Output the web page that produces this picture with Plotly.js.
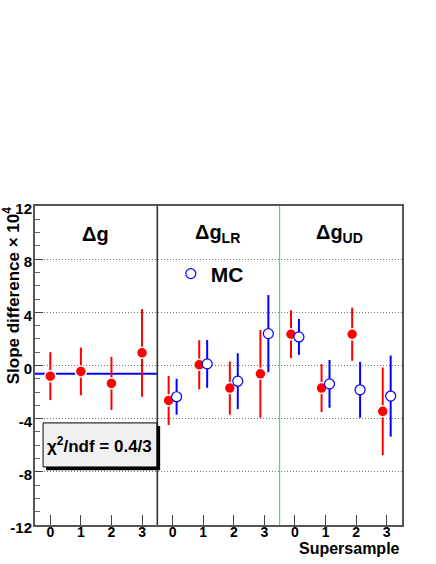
<!DOCTYPE html>
<html>
<head>
<meta charset="utf-8">
<script src="https://cdn.plot.ly/plotly-3.0.1.min.js"></script>
<style>
  html, body { margin: 0; padding: 0; background: #fff; }
  #chart { width: 436px; height: 564px; }
</style>
</head>
<body>
<div id="chart"></div>
<script>
// Slope differences per supersample, three panels: dg, dg_LR, dg_UD

const supersamples = [0, 1, 2, 3];
const tickLabels = ['0', '1', '2', '3'];
const panelTitles = ['\u0394g', '\u0394g<sub>LR</sub>', '\u0394g<sub>UD</sub>'];

// data (red) and MC (blue), units of 1e-4
const dgData = [-0.8, -0.45, -1.35, 0.95];
const dgDataErr = [1.8, 1.8, 2.0, 3.3];
const lrData = [-2.63, 0.05, -1.7, -0.63];
const lrDataErr = [1.85, 1.85, 2.0, 3.3];
const lrMC = [-2.35, 0.12, -1.18, 2.4];
const lrMCErr = [1.35, 1.8, 2.1, 2.9];
const udData = [2.35, -1.7, 2.35, -3.45];
const udDataErr = [1.8, 1.8, 2.0, 3.3];
const udMC = [2.15, -1.38, -1.83, -2.3];
const udMCErr = [1.35, 1.8, 2.1, 3.05];

// constant fit to dg
const fitValue = -0.63;
const fitText = '\u03c7<sup>2</sup>/ndf = 0.4/3';

const yTicks = [-12, -8, -4, 0, 4, 8, 12];

const RED = '#ff0000';
const BLUE = '#0000ff';
const FONT = 'Liberation Sans, Arial, Helvetica, sans-serif';
const nPerPanel = supersamples.length;
const shift = 0.13;

function panelX(panel, offset) {
    return supersamples.map(function(s) { return panel * nPerPanel + s + offset; });
}

function pointTrace(x, y, err, isMC, name, showlegend) {
    return {
        x: x,
        y: y,
        type: 'scatter',
        mode: 'markers',
        name: name,
        showlegend: showlegend,
        error_y: {
            type: 'data',
            array: err,
            visible: true,
            color: isMC ? BLUE : RED,
            thickness: 2,
            width: 0
        },
        marker: isMC ? {
            symbol: 'circle',
            size: 10,
            color: '#ffffff',
            line: { color: BLUE, width: 1.2 }
        } : {
            symbol: 'circle',
            size: 11,
            color: RED,
            line: { color: '#ffffff', width: 1.5 }
        }
    };
}

const traces = [
    {
        x: [-0.5, nPerPanel - 0.5],
        y: [fitValue, fitValue],
        type: 'scatter',
        mode: 'lines',
        line: { color: BLUE, width: 2 },
        showlegend: false,
        hoverinfo: 'skip'
    },
    pointTrace(panelX(0, 0), dgData, dgDataErr, false, 'Data', false),
    pointTrace(panelX(1, -shift), lrData, lrDataErr, false, 'Data', false),
    pointTrace(panelX(1, shift), lrMC, lrMCErr, true, 'MC', true),
    pointTrace(panelX(2, -shift), udData, udDataErr, false, 'Data', false),
    pointTrace(panelX(2, shift), udMC, udMCErr, true, 'MC', false)
];

// x tick positions and labels for all panels
const tickVals = [];
const tickText = [];
for (let p = 0; p < panelTitles.length; p++) {
    supersamples.forEach(function(s, i) {
        tickVals.push(p * nPerPanel + s);
        tickText.push(tickLabels[i]);
    });
}

// panel separators
const shapes = [
    { type: 'line', xref: 'x', yref: 'paper', x0: nPerPanel - 0.5, x1: nPerPanel - 0.5, y0: 0, y1: 1,
      line: { color: '#333333', width: 1.6 } },
    { type: 'line', xref: 'x', yref: 'paper', x0: 2 * nPerPanel - 0.5, x1: 2 * nPerPanel - 0.5, y0: 0, y1: 1,
      line: { color: '#22dd22', width: 1 } },
    // fit box shadow + box
    { type: 'rect', xref: 'paper', yref: 'paper', x0: 0.030, x1: 0.341, y0: 0.172, y1: 0.310,
      fillcolor: '#000000', line: { width: 0 } },
    { type: 'rect', xref: 'paper', yref: 'paper', x0: 0.022, x1: 0.332, y0: 0.182, y1: 0.320,
      fillcolor: '#f0f0f0', line: { color: '#000000', width: 1 } }
];

const annotations = panelTitles.map(function(t, p) {
    return {
        x: p * nPerPanel + 1.47, y: 9.9, xref: 'x', yref: 'y',
        text: '<b>' + t + '</b>', showarrow: false,
        xanchor: 'center', yanchor: 'middle',
        font: { family: FONT, size: 20, color: '#000' }
    };
});

annotations.push({
    x: 0.177, y: 0.251, xref: 'paper', yref: 'paper',
    text: '<b>' + fitText + '</b>', showarrow: false,
    xanchor: 'center', yanchor: 'middle',
    font: { family: FONT, size: 17, color: '#000' }
});

annotations.push({
    x: -0.063, y: 1.005, xref: 'paper', yref: 'paper',
    text: '<b>Slope difference \u00d7 10<sup>4</sup></b>', showarrow: false,
    textangle: -90, xanchor: 'center', yanchor: 'top',
    font: { family: FONT, size: 17, color: '#000' }
});

annotations.push({
    x: 1, y: -0.073, xref: 'paper', yref: 'paper',
    text: '<b>Supersample</b>', showarrow: false,
    xanchor: 'right', yanchor: 'middle',
    font: { family: FONT, size: 16, color: '#000' }
});

const layout = {
    width: 436,
    height: 564,
    margin: { l: 35, r: 34, t: 206, b: 39 },
    paper_bgcolor: '#ffffff',
    plot_bgcolor: '#ffffff',
    showlegend: true,
    legend: {
        x: 0.37, y: 0.787, xanchor: 'left', yanchor: 'middle',
        bgcolor: 'rgba(0,0,0,0)', borderwidth: 0,
        font: { family: FONT, size: 21, color: '#000', weight: 'bold' }
    },
    xaxis: {
        range: [-0.5, panelTitles.length * nPerPanel - 0.5],
        tickmode: 'array',
        tickvals: tickVals,
        ticktext: tickText,
        ticks: 'inside',
        ticklen: 10,
        tickcolor: '#444',
        ticklabelstandoff: -7,
        showgrid: false,
        zeroline: false,
        showline: true,
        mirror: true,
        linecolor: '#555',
        linewidth: 2,
        tickfont: { family: FONT, size: 14, color: '#000', weight: 'bold' }
    },
    yaxis: {
        range: [-12, 12],
        tickmode: 'array',
        tickvals: yTicks,
        ticktext: yTicks.map(String),
        ticks: 'inside',
        ticklen: 8,
        tickcolor: '#444',
        ticklabelstandoff: -2,
        ticklabelshift: 3,
        minor: { dtick: 1, ticks: 'inside', ticklen: 5, tickcolor: '#666', showgrid: false },
        showgrid: true,
        gridcolor: '#777',
        griddash: '1px,2px',
        gridwidth: 1,
        zeroline: false,
        showline: true,
        mirror: true,
        linecolor: '#555',
        linewidth: 2,
        tickfont: { family: FONT, size: 15, color: '#000', weight: 'bold' }
    },
    shapes: shapes,
    annotations: annotations
};

Plotly.newPlot('chart', traces, layout, { displayModeBar: false, staticPlot: true });
</script>
</body>
</html>
